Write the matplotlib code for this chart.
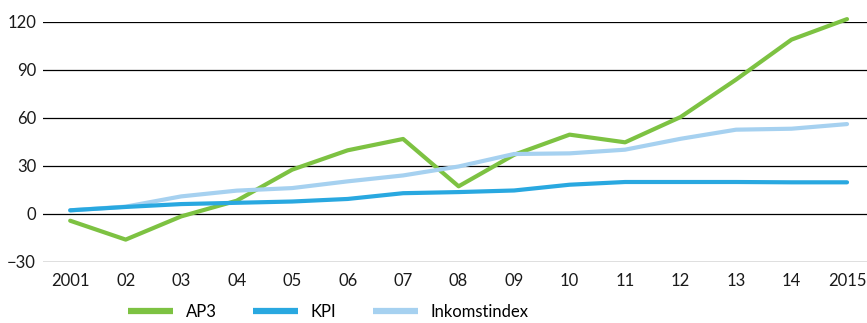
import matplotlib.pyplot as plt

plt.rcParams['font.family'] = ['Lato', 'DejaVu Sans']

years = ['2001', '02', '03', '04', '05', '06', '07', '08', '09', '10',
         '11', '12', '13', '14', '2015']
ap3 = [-4.2, -16, -1.5, 8.3, 27.7, 39.8, 46.9, 17.3, 37, 49.6,
       44.8, 60.6, 84, 109, 121.8]
kpi = [2.3, 4.4, 6.2, 7.0, 7.8, 9.4, 13, 13.7, 14.7, 18.3,
       20, 20, 20, 19.8, 19.8]
inkomst = [2.3, 4.6, 11, 14.6, 16.2, 20.4, 24.1, 29.7, 37.5, 37.9,
           40.2, 47, 52.7, 53.3, 56.2]
yticks = [-30, 0, 30, 60, 90, 120]

fig = plt.figure(figsize=(8.67, 3.23), dpi=100)
ax = fig.add_axes([43/867, 61/323, 824/867, 240/323])

x = range(len(years))
ax.plot(x, ap3, color='#7dc242', lw=3, label='AP3', clip_on=False, solid_capstyle='round')
ax.plot(x, kpi, color='#29a8e0', lw=3, label='KPI', clip_on=False, solid_capstyle='round', zorder=3)
ax.plot(x, inkomst, color='#a6d1f0', lw=3, label='Inkomstindex', clip_on=False, solid_capstyle='round')

ax.set_xlim(-0.49, 14.36)
ax.set_ylim(-30, 120)
ax.set_yticks(yticks)
ax.set_xticks(list(x))
ax.set_xticklabels(years)
ax.yaxis.grid(True, color='black', lw=0.9)
ax.set_axisbelow(True)
for s in ax.spines.values():
    s.set_visible(False)
ax.tick_params(length=0, labelsize=12, colors='#1a1a1a')
ax.tick_params(axis='y', pad=5)
ax.tick_params(axis='x', pad=8)

leg = fig.legend(loc='center left', bbox_to_anchor=(128/867, 11/323), ncol=3,
                 frameon=False, fontsize=12, handlelength=2.7, handletextpad=0.75,
                 columnspacing=2.2, borderpad=0, borderaxespad=0)
for h in leg.legend_handles:
    h.set_linewidth(4.5)
    h.set_solid_capstyle('butt')

fig.savefig('out.png', dpi=100)
